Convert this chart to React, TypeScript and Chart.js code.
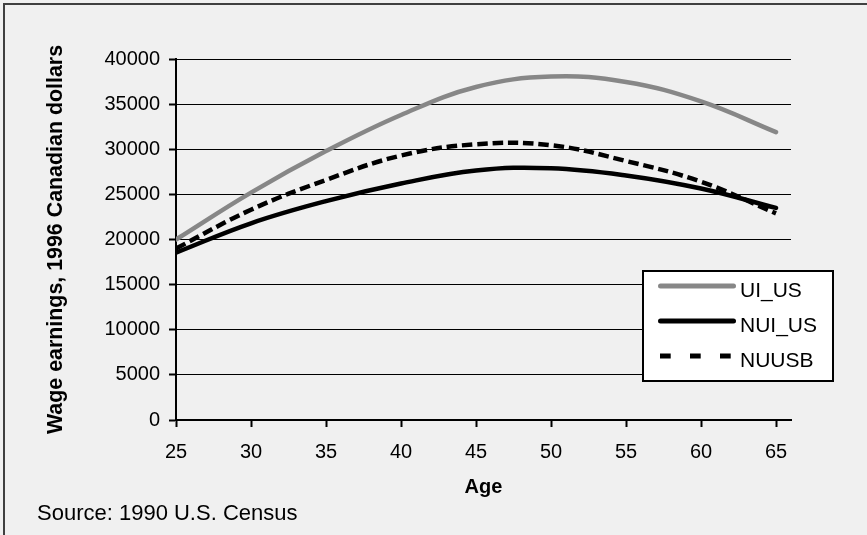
import React, { useEffect, useRef } from "react";
import { Chart, registerables } from "chart.js";

Chart.register(...registerables);

// ---- data ----
const ages = [25, 30, 35, 40, 45, 50, 55, 60, 65];
const uiUS = [20000, 25200, 29800, 33800, 36900, 38050, 37450, 35300, 31900];
const nuiUS = [18550, 21800, 24250, 26200, 27650, 27900, 27100, 25650, 23500];
const nuusb = [19000, 23300, 26600, 29300, 30550, 30450, 28700, 26400, 22900];
const xTicks = [25, 30, 35, 40, 45, 50, 55, 60, 65];
const yTicks = [0, 5000, 10000, 15000, 20000, 25000, 30000, 35000, 40000];
const seriesNames = ["UI_US", "NUI_US", "NUUSB"];
const xTitle = "Age";
const yTitle = "Wage earnings, 1996 Canadian dollars";
const sourceNote = "Source: 1990 U.S. Census";

const FONT = "'Liberation Sans', Arial, Helvetica, sans-serif";

const toPoints = (vals: number[]) => ages.map((a, i) => ({ x: a, y: vals[i] }));

const legendPlugin = {
  id: "boxLegend",
  afterDraw(chart: any) {
    const ctx = chart.ctx as CanvasRenderingContext2D;
    ctx.save();
    ctx.fillStyle = "#ffffff";
    ctx.fillRect(643, 271, 190, 110);
    ctx.lineWidth = 2;
    ctx.strokeStyle = "#000000";
    ctx.setLineDash([]);
    ctx.strokeRect(643, 271, 190, 110);
    chart.data.datasets.forEach((ds: any, i: number) => {
      const y = 286 + i * 35;
      ctx.beginPath();
      ctx.strokeStyle = ds.borderColor;
      ctx.lineWidth = 5;
      if (ds.borderDash && ds.borderDash.length) {
        ctx.setLineDash([10.7, 19.3]);
        ctx.lineCap = "butt";
        ctx.moveTo(660, y);
        ctx.lineTo(731, y);
      } else {
        ctx.setLineDash([]);
        ctx.lineCap = "round";
        ctx.moveTo(660.5, y);
        ctx.lineTo(733.5, y);
      }
      ctx.stroke();
      ctx.setLineDash([]);
      ctx.fillStyle = "#000000";
      ctx.font = `21px ${FONT}`;
      ctx.textBaseline = "alphabetic";
      ctx.textAlign = "left";
      ctx.fillText(ds.label, 740, y + 10.5);
    });
    ctx.restore();
  },
};

export default function App() {
  const canvasRef = useRef<HTMLCanvasElement | null>(null);

  useEffect(() => {
    document.body.style.background = "#f0f0f0";
    const canvas = canvasRef.current;
    if (!canvas) return;
    const chart = new Chart(canvas, {
      type: "line",
      data: {
        datasets: [
          {
            label: seriesNames[0],
            data: toPoints(uiUS),
            borderColor: "#878787",
            borderWidth: 4.5,
            borderCapStyle: "round",
            pointRadius: 0,
            tension: 0.4,
            fill: false,
          },
          {
            label: seriesNames[1],
            data: toPoints(nuiUS),
            borderColor: "#000000",
            borderWidth: 4.5,
            borderCapStyle: "round",
            pointRadius: 0,
            tension: 0.4,
            fill: false,
          },
          {
            label: seriesNames[2],
            data: toPoints(nuusb),
            borderColor: "#000000",
            borderWidth: 4.5,
            borderDash: [10.5, 4.8],
            borderCapStyle: "butt",
            pointRadius: 0,
            tension: 0.4,
            fill: false,
          },
        ],
      },
      options: {
        responsive: false,
        animation: false,
        devicePixelRatio: 1,
        layout: { padding: { left: 0, right: 76, top: 59, bottom: 0 } },
        plugins: {
          legend: { display: false },
          tooltip: { enabled: false },
        },
        scales: {
          x: {
            type: "linear",
            min: 25,
            max: 66,
            afterBuildTicks: (axis: any) => {
              axis.ticks = xTicks.map((v) => ({ value: v }));
            },
            afterFit: (scale: any) => {
              scale.height = 115;
            },
            ticks: {
              color: "#000000",
              font: { family: FONT, size: 20 },
              padding: 13,
              maxRotation: 0,
              autoSkip: false,
              callback: (v: any) => String(v),
            },
            grid: {
              drawOnChartArea: false,
              drawTicks: true,
              tickLength: 7,
              tickWidth: 2,
              tickColor: "#000000",
            },
            border: { display: true, color: "#000000", width: 2 },
            title: {
              display: true,
              text: xTitle,
              color: "#000000",
              font: { family: FONT, size: 20, weight: "bold", lineHeight: 1 },
              padding: { top: 0, bottom: 37.5 },
            },
          },
          y: {
            type: "linear",
            min: 0,
            max: 40000,
            afterBuildTicks: (axis: any) => {
              axis.ticks = yTicks.map((v) => ({ value: v }));
            },
            afterFit: (scale: any) => {
              scale.width = 176;
            },
            ticks: {
              color: "#000000",
              font: { family: FONT, size: 20 },
              padding: 9,
              autoSkip: false,
              callback: (v: any) => String(v),
            },
            grid: {
              color: "#000000",
              lineWidth: 1,
              drawTicks: true,
              tickLength: 7,
              tickWidth: 2,
              tickColor: "#000000",
            },
            border: { display: true, color: "#000000", width: 2 },
            title: {
              display: true,
              text: yTitle,
              color: "#000000",
              font: { family: FONT, size: 21.4, weight: "bold", lineHeight: 1 },
              padding: { top: 45.3, bottom: 0 },
            },
          },
        },
      },
      plugins: [legendPlugin],
    } as any);
    return () => chart.destroy();
  }, []);

  return (
    <div
      style={{
        position: "absolute",
        left: 0,
        top: 0,
        width: 867,
        height: 535,
        overflow: "hidden",
        background: "#f0f0f0",
      }}
    >
      <div
        style={{
          position: "absolute",
          left: 3,
          top: 3,
          width: 900,
          height: 600,
          border: "2px solid #404040",
        }}
      />
      <canvas
        ref={canvasRef}
        width={867}
        height={535}
        style={{ position: "absolute", left: 0, top: 0, display: "block" }}
      />
      <div
        style={{
          position: "absolute",
          left: 37,
          top: 501.5,
          fontFamily: FONT,
          fontSize: 22,
          lineHeight: "22px",
          color: "#000000",
          whiteSpace: "nowrap",
        }}
      >
        {sourceNote}
      </div>
    </div>
  );
}
